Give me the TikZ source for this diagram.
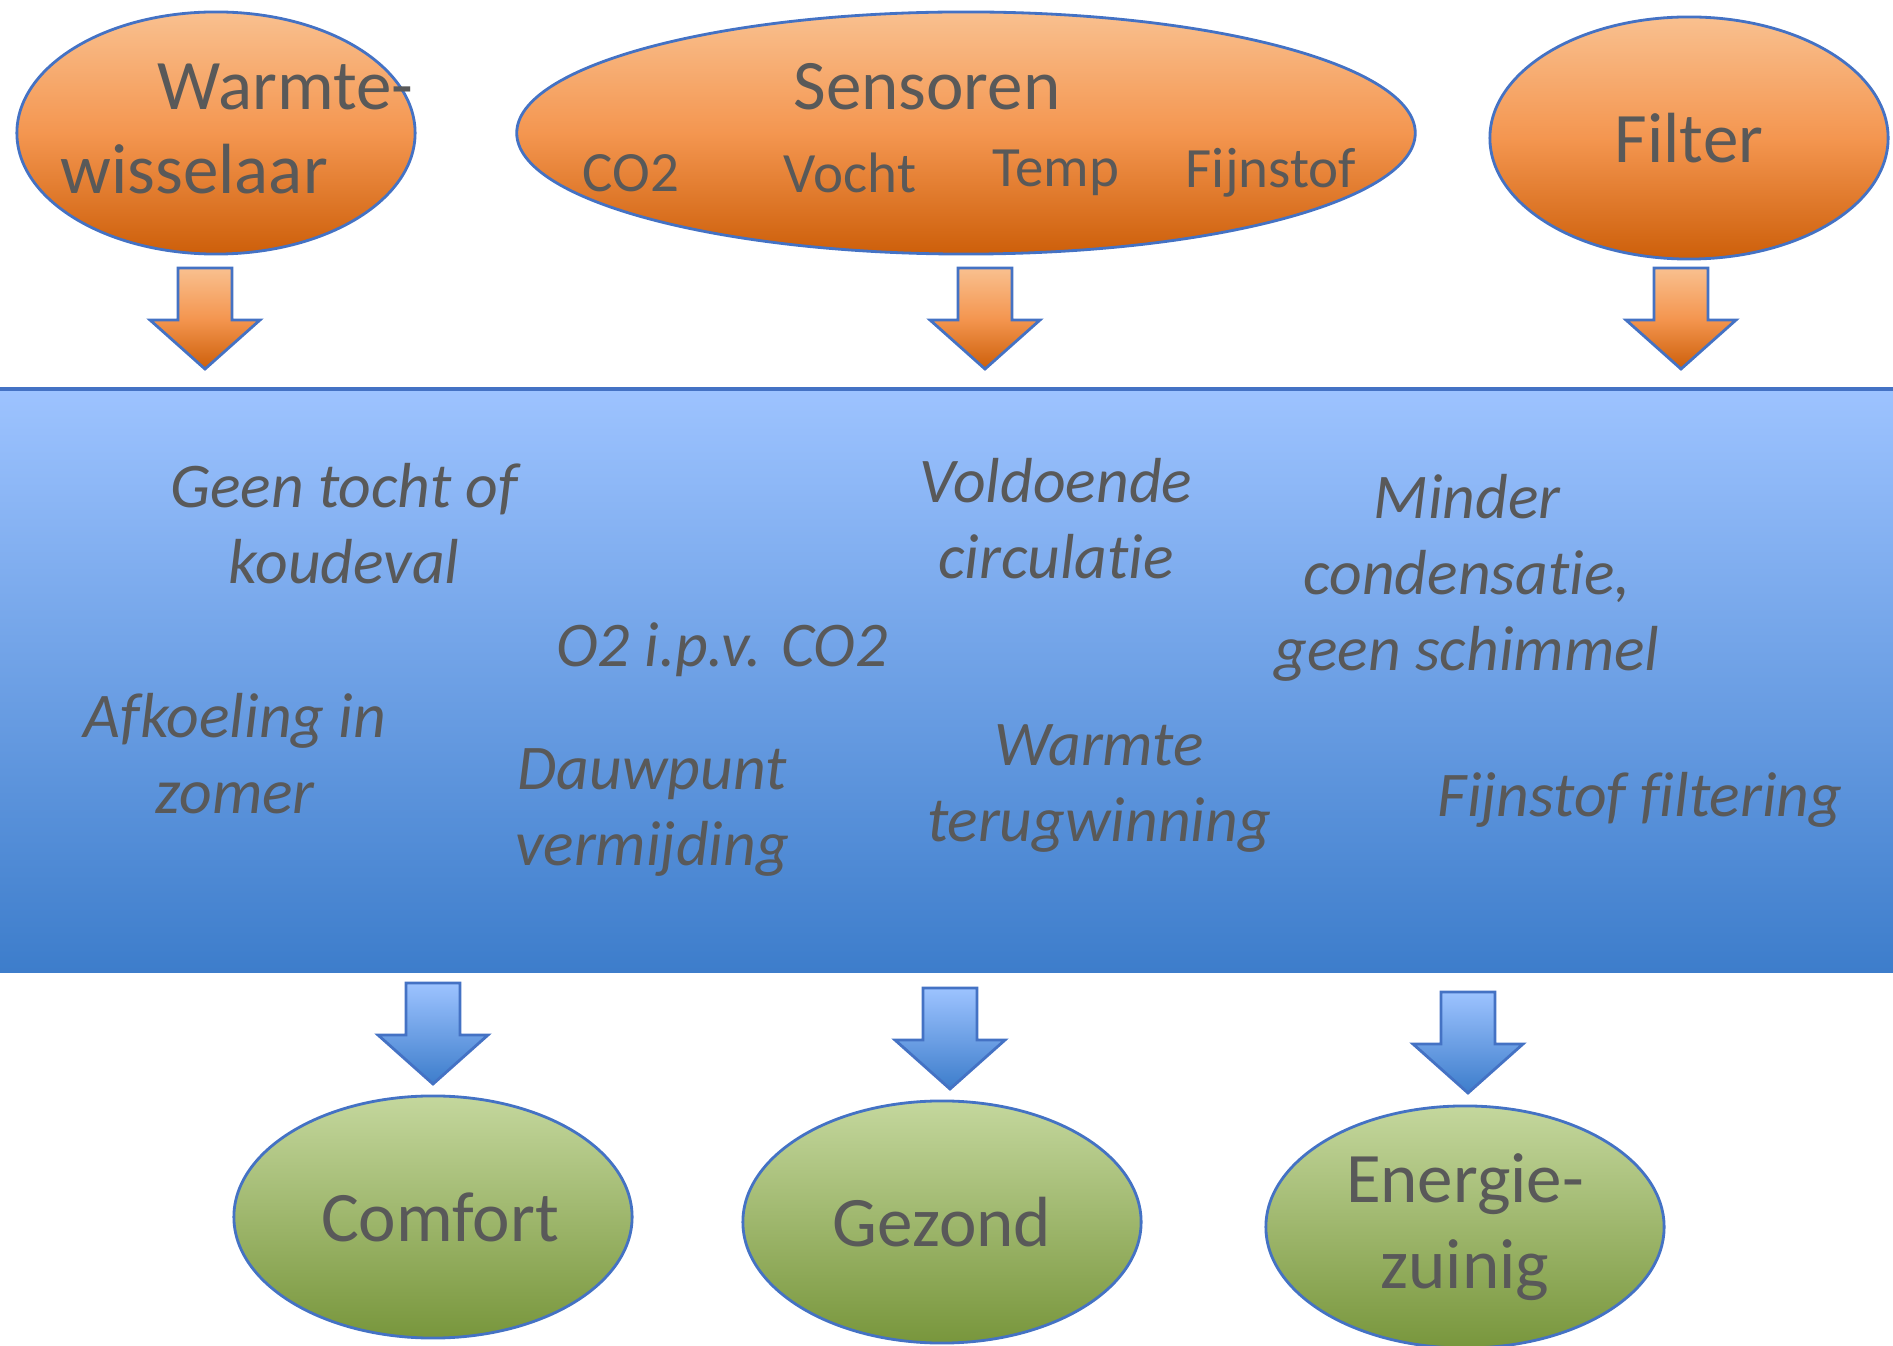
\documentclass[tikz,border=0pt]{standalone}
\usepackage{fontspec}
\setmainfont[Ligatures=NoCommon]{Carlito}
\usetikzlibrary{shapes.geometric,positioning,calc}

\definecolor{txtgray}{RGB}{89,89,89}
\definecolor{edgeblue}{RGB}{68,114,196}
\definecolor{orTop}{RGB}{249,192,143}
\definecolor{orMid}{RGB}{244,150,80}
\definecolor{orBot}{RGB}{205,95,10}
\definecolor{blTop}{RGB}{157,195,255}
\definecolor{blBot}{RGB}{61,125,203}
\definecolor{grTop}{RGB}{196,215,157}
\definecolor{grBot}{RGB}{120,150,60}

\tikzset{
  orange fill/.style={top color=orTop, bottom color=orBot, middle color=orMid},
  blue fill/.style={top color=blTop, bottom color=blBot, middle color=blTop!50!blBot},
  green fill/.style={top color=grTop, bottom color=grBot, middle color=grTop!50!grBot},
  bubble/.style={ellipse, draw=edgeblue, line width=0.8pt, minimum width=3.98cm,
    minimum height=2.42cm, inner sep=0pt, text=txtgray, font=\fontsize{20.2}{24.5}\selectfont},
  title/.style={text=txtgray, inner sep=0pt, align=left, font=\fontsize{20.2}{24}\selectfont},
  sub/.style={text=txtgray, inner sep=0pt, font=\fontsize{16.2}{19}\selectfont},
  effect/.style={text=txtgray, inner sep=0pt, align=center, font=\fontsize{18.1}{21.6}\selectfont\itshape},
  downarrow/.pic={
    \shade[draw=edgeblue, line width=0.8pt, #1]
      (-27,0) -- (27,0) -- (27,52) -- (55,52) -- (0,101) -- (-55,52) -- (-27,52) -- cycle;
  }
}

\begin{document}
\begin{tikzpicture}[x=0.01cm, y=-0.01cm]
    \useasboundingbox (0,0) rectangle (1893,1346);

    % inputs
    \node[bubble, orange fill] (wtw) at (216,133) {};
    \node[title, anchor=west] (wtwtxt) at (60,129) {\hspace*{0.97cm}Warmte-\\wisselaar};

    \node[bubble, orange fill, minimum width=8.98cm] (sens) at (966,133) {};
    \node[title] (senstxt) at (927,87) {Sensoren};
    \node[sub] (co2) at (631,173) {CO2};
    \node[sub] (vocht) at (850,173) {Vocht};
    \node[sub] (temp) at (1056,173) {Temp};
    \node[sub] (fijn) at (1271,173) {Fijnstof};

    \node[bubble, orange fill] (filter) at (1689,138) {Filter};

    \pic at (205,268) {downarrow=orange fill};
    \pic at (985,268) {downarrow=orange fill};
    \pic at (1681,268) {downarrow=orange fill};

    % ventilation system
    \shade[blue fill] (0,389) rectangle (1893,972);
    \draw[edgeblue, line width=1pt] (0,389) -- (1893,389);

    \node[effect] (tocht) at (344,524) {Geen tocht of\\koudeval};
    \node[effect] (afkoel) at (235,754) {Afkoeling in\\zomer};
    \node[effect] (o2) at (722,650) {O2 i.p.v. CO2};
    \node[effect] (dauw) at (652,813) {Dauwpunt\\vermijding};
    \node[effect] (circ) at (1056,519) {Voldoende\\circulatie};
    \node[effect] (terug) at (1099,789) {Warmte\\terugwinning};
    \node[effect] (cond) at (1467,578) {Minder\\condensatie,\\geen schimmel};
    \node[effect] (filt) at (1640,800) {Fijnstof filtering};

    % outputs
    \pic at (433,983) {downarrow=blue fill};
    \pic at (950,988) {downarrow=blue fill};
    \pic at (1468,992) {downarrow=blue fill};

    \node[bubble, green fill] (comfort) at (433,1217) {\hspace*{0.14cm}Comfort};
    \node[bubble, green fill] (gezond) at (942,1222) {Gezond};
    \node[bubble, green fill, align=center] (energie) at (1465,1227) {Energie-\\zuinig};
\end{tikzpicture}
\end{document}
